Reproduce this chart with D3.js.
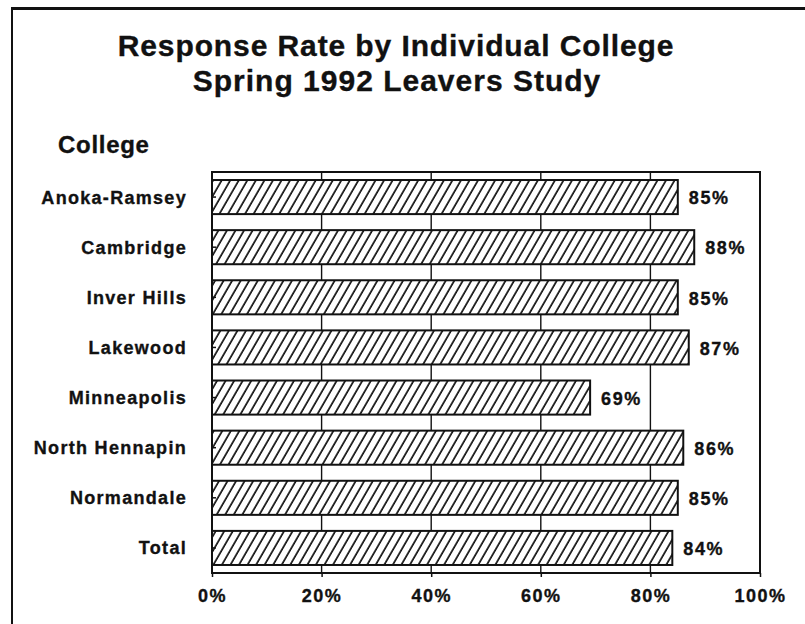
<!doctype html>
<html lang="en">
<head>
<meta charset="utf-8">
<title>Response Rate by Individual College</title>
<script src="https://d3js.org/d3.v7.min.js"></script>
<style>
  body { margin: 0; background: #fff; }
  svg { display: block; font-family: "Liberation Sans", Arial, sans-serif; font-weight: bold; }
  svg text { fill: #111; stroke: #111; stroke-width: 0.35px; }
</style>
</head>
<body>
<div id="chart"></div>
<script>
var colleges = ["Anoka-Ramsey", "Cambridge", "Inver Hills", "Lakewood",
                "Minneapolis", "North Hennapin", "Normandale", "Total"];
var rates = [85, 88, 85, 87, 69, 86, 85, 84];
var xTicks = [0, 20, 40, 60, 80, 100];

var width = 805, height = 624;
var plot = { left: 212, right: 760, top: 172, bottom: 573 };

var svg = d3.select("#chart").append("svg")
    .attr("width", width)
    .attr("height", height);

// hatch fill for the bars
var pat = svg.append("defs").append("pattern")
    .attr("id", "hatch")
    .attr("patternUnits", "userSpaceOnUse")
    .attr("width", 7.4)
    .attr("height", 20)
    .attr("patternTransform", "rotate(30)");
pat.append("rect").attr("width", 7.4).attr("height", 20).attr("fill", "#fff");
pat.append("line")
    .attr("x1", 1).attr("x2", 1).attr("y1", 0).attr("y2", 20)
    .attr("stroke", "#111").attr("stroke-width", 1.7);

// outer frame (cut off on right and bottom)
svg.append("line").attr("x1", 11).attr("x2", width).attr("y1", 8.5).attr("y2", 8.5)
    .attr("stroke", "#111").attr("stroke-width", 3);
svg.append("line").attr("x1", 12).attr("x2", 12).attr("y1", 7).attr("y2", height)
    .attr("stroke", "#111").attr("stroke-width", 2);

// titles
svg.append("text").attr("x", 396).attr("y", 56)
    .attr("text-anchor", "middle")
    .style("font-size", "30px").style("letter-spacing", "0.9px")
    .text("Response Rate by Individual College");
svg.append("text").attr("x", 397).attr("y", 91)
    .attr("text-anchor", "middle")
    .style("font-size", "30px").style("letter-spacing", "1px")
    .text("Spring 1992 Leavers Study");
svg.append("text").attr("x", 58).attr("y", 153)
    .style("font-size", "24px").style("letter-spacing", "0.7px")
    .text("College");

var x = d3.scaleLinear().domain([0, 100]).range([plot.left, plot.right]);
var y = d3.scaleBand().domain(colleges)
    .range([plot.top, plot.bottom])
    .paddingInner(0.32).paddingOuter(0.16);

// grid lines
svg.append("g").selectAll("line")
    .data(xTicks.slice(1, -1))
    .join("line")
    .attr("x1", function(d) { return x(d); })
    .attr("x2", function(d) { return x(d); })
    .attr("y1", plot.top).attr("y2", plot.bottom)
    .attr("stroke", "#111").attr("stroke-width", 1.4);

// bars
svg.append("g").selectAll("rect")
    .data(rates)
    .join("rect")
    .attr("x", x(0))
    .attr("y", function(d, i) { return y(colleges[i]); })
    .attr("width", function(d) { return x(d) - x(0); })
    .attr("height", y.bandwidth())
    .attr("fill", "url(#hatch)")
    .attr("stroke", "#111").attr("stroke-width", 2);

// value labels
svg.append("g").selectAll("text")
    .data(rates)
    .join("text")
    .attr("x", function(d) { return x(d) + 11; })
    .attr("y", function(d, i) { return y(colleges[i]) + y.bandwidth() / 2; })
    .attr("dy", "0.4em")
    .style("font-size", "18px").style("letter-spacing", "1.6px")
    .text(function(d) { return d + "%"; });

// plot border
svg.append("rect")
    .attr("x", plot.left).attr("y", plot.top)
    .attr("width", plot.right - plot.left).attr("height", plot.bottom - plot.top)
    .attr("fill", "none").attr("stroke", "#111").attr("stroke-width", 2);

// y axis: labels plus small inward ticks
var yAxis = svg.append("g")
    .attr("transform", "translate(" + plot.left + ",0)")
    .call(d3.axisLeft(y).tickSizeInner(-4).tickSizeOuter(0).tickPadding(25));
yAxis.select(".domain").remove();
yAxis.selectAll("line").attr("stroke", "#111").attr("stroke-width", 1.5);
yAxis.selectAll("text")
    .attr("fill", null)
    .style("font-family", "inherit")
    .style("font-size", "18px").style("letter-spacing", "1.3px")
    .attr("dy", "0.36em");

// x axis
var xAxis = svg.append("g")
    .attr("transform", "translate(0," + plot.bottom + ")")
    .call(d3.axisBottom(x).tickValues(xTicks).tickSize(4).tickPadding(12)
        .tickFormat(function(d) { return d + "%"; }));
xAxis.select(".domain").remove();
xAxis.selectAll("line").attr("stroke", "#111").attr("stroke-width", 1.5);
xAxis.selectAll("text")
    .attr("fill", null)
    .style("font-family", "inherit")
    .style("font-size", "18px").style("letter-spacing", "1.5px");
</script>
</body>
</html>
